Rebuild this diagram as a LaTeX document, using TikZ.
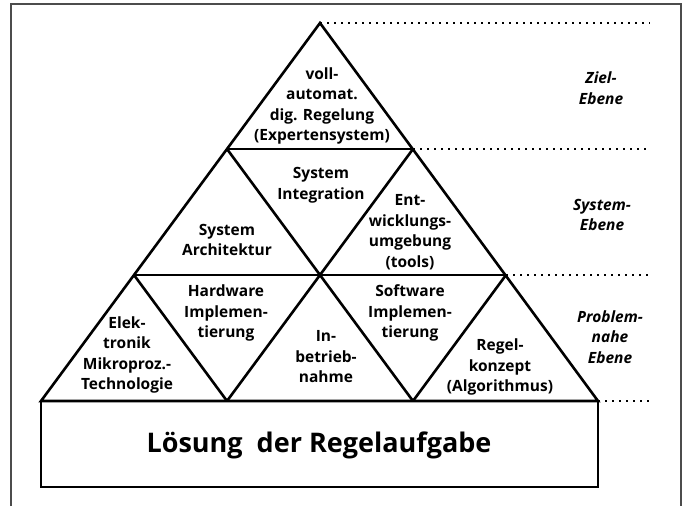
\documentclass[tikz,border=0pt]{standalone}
\usepackage{fontspec}
\setmainfont{Open Sans}
\usepackage{tikz}
\usetikzlibrary{positioning}

\begin{document}
\begin{tikzpicture}[x=1pt, y=-1pt,
  every node/.style={font=\bfseries\fontsize{15.5}{20.5}\selectfont, align=center, inner sep=0pt},
  pyr/.style={line width=2.6pt, line join=miter},
  ebene/.style={line width=2pt, dash pattern=on 2pt off 5pt},
  rahmen/.style={line width=1.2pt, black!70},
  stufe/.style={font=\bfseries\itshape\fontsize{15.5}{20.5}\selectfont}]
\useasboundingbox (0,0) rectangle (684,506);

% --- Frame ---
\coordinate (fa) at (11,506);
\coordinate (fb) at (11,4);
\coordinate (fc) at (681,4);
\coordinate (fd) at (681,506);
\draw[rahmen] (fa) -- (fb) -- (fc) -- (fd);

% --- Corner points of the pyramid ---
\coordinate (a0) at (320,23);
\coordinate (l1) at (227,149);
\coordinate (r1) at (413,149);
\coordinate (l2) at (134,275);
\coordinate (m2) at (320,275);
\coordinate (r2) at (506,275);
\coordinate (l3) at (41,401);
\coordinate (p3) at (227,401);
\coordinate (q3) at (413,401);
\coordinate (r3) at (598,401);
\coordinate (bs) at (598,487);

% --- Triangles ---
\draw[pyr] (a0) -- (l3) -- (r3) -- cycle;
\draw[pyr] (l1) -- (r1);
\draw[pyr] (l2) -- (r2);
\draw[pyr] (l1) -- (q3);
\draw[pyr] (r1) -- (p3);
\draw[pyr] (l2) -- (p3);
\draw[pyr] (r2) -- (q3);

% --- Base box ---
\draw[pyr] (l3) rectangle (bs);
\node[font=\bfseries\fontsize{27}{30}\selectfont] (loes) at (319,445) {Lösung\ \ der Regelaufgabe};

% --- Level lines ---
\coordinate (e0) at (650,23);
\coordinate (e1) at (650,149);
\coordinate (e2) at (650,275);
\coordinate (e3) at (650,401);
\draw[ebene] (a0) -- (e0);
\draw[ebene] (r1) -- (e1);
\draw[ebene] (r2) -- (e2);
\draw[ebene] (r3) -- (e3);

% --- Cell labels ---
\node (voll) at (322,106) {voll-\\automat.\\dig. Regelung\\(Expertensystem)};
\node (sint) at (321,185) {System\\Integration};
\node (sarch) at (227,240) {System\\Architektur};
\node (ent) at (410,232) {Ent-\\wicklungs-\\umgebung\\(tools)};
\node (hw) at (226,313) {Hardware\\Implemen-\\tierung};
\node (sw) at (410,313) {Software\\Implemen-\\tierung};
\node (elek) at (127,355) {Elek-\\tronik\\Mikroproz.-\\Technologie};
\node (inb) at (326,357) {In-\\betrieb-\\nahme};
\node (regel) at (500,367) {Regel-\\konzept\\(Algorithmus)};

% --- Level names ---
\node[stufe] (zielE) at (601,88) {Ziel-\\Ebene};
\node[stufe] (sysE) at (602,215) {System-\\Ebene};
\node[stufe] (probE) at (610,337) {Problem-\\nahe\\Ebene};

\end{tikzpicture}
\end{document}
